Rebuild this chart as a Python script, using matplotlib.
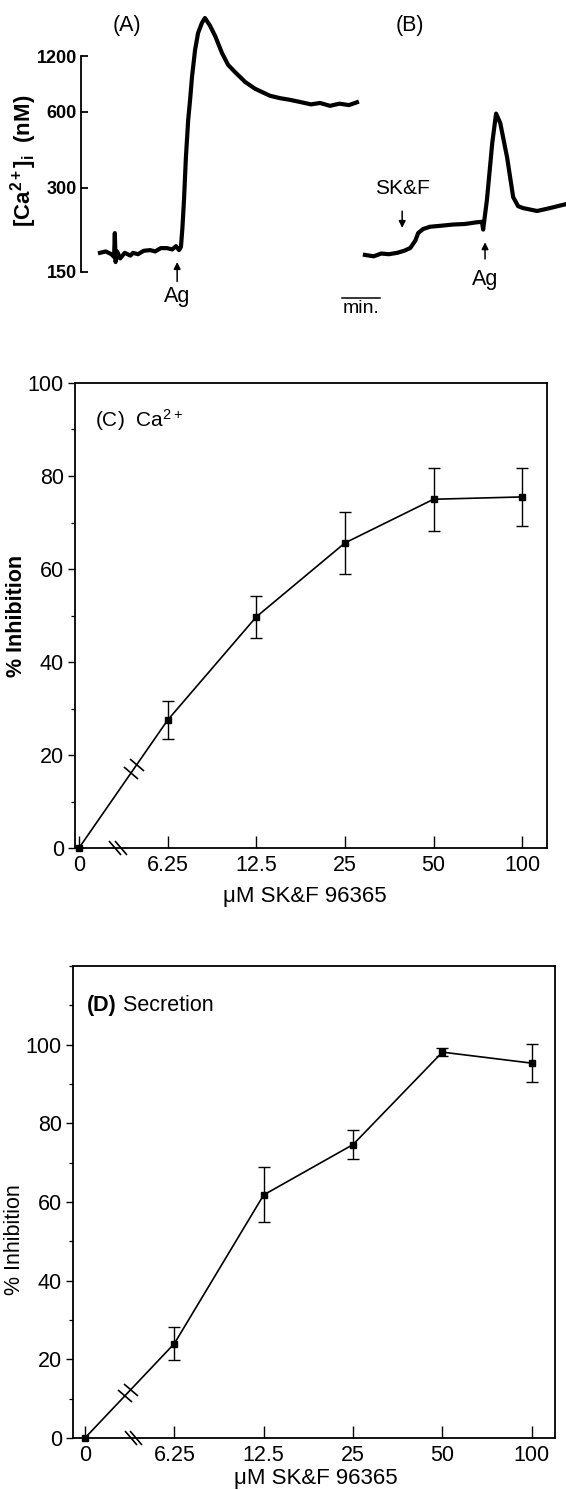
import numpy as np
import matplotlib
matplotlib.use("Agg")
from matplotlib import pyplot as plt
from matplotlib.markers import MarkerStyle
from matplotlib.transforms import Affine2D
from matplotlib.ticker import FixedLocator, MultipleLocator, NullLocator

plt.rcParams["font.family"] = ["Liberation Sans", "DejaVu Sans"]
plt.rcParams["mathtext.fontset"] = "custom"
plt.rcParams["mathtext.rm"] = "Liberation Sans"
plt.rcParams["mathtext.bf"] = "Liberation Sans:bold"
plt.rcParams["mathtext.it"] = "Liberation Sans:italic"
plt.rcParams["mathtext.default"] = "regular"

# trace (A): antigen alone, time [min] vs [Ca2+]i [nM]
t_a = [0.0, 0.15, 0.3, 0.37, 0.39, 0.41, 0.45, 0.53, 0.65, 0.8, 0.87, 1.0, 1.15,
       1.32, 1.45, 1.6, 1.76, 1.9, 2.0, 2.08, 2.13, 2.17, 2.21, 2.26, 2.32, 2.37,
       2.42, 2.5, 2.58, 2.68, 2.76, 2.89, 3.03, 3.21, 3.37, 3.55, 3.82, 4.08,
       4.47, 4.75, 5.0, 5.3, 5.55, 5.79, 6.05, 6.3, 6.55, 6.76]
ca_a = [176, 178, 174, 170, 207, 163, 178, 168, 176, 172, 176, 174, 179,
        180, 178, 183, 183, 181, 186, 180, 185, 218, 272, 390, 553, 683,
        895, 1320, 1820, 2290, 2623, 2160, 1710, 1260, 1055, 956, 841, 775,
        715, 695, 683, 665, 650, 660, 640, 655, 645, 665]

# trace (B): SK&F 96365 then antigen
t_b = [6.97, 7.2, 7.4, 7.6, 7.82, 8.0, 8.16, 8.3, 8.37, 8.5, 8.68, 9.0, 9.29,
       9.6, 9.9, 10.05, 10.08, 10.18, 10.32, 10.42, 10.53, 10.71, 10.87, 11.0,
       11.13, 11.5, 11.84, 12.24]
ca_b = [173, 171, 175, 174, 176, 179, 183, 195, 207, 214, 218, 220, 222,
        223, 226, 227, 213, 272, 444, 590, 537, 390, 278, 258,
        254, 248, 254, 262]

# dose response (C) and (D)
doses = ["0", "6.25", "12.5", "25", "50", "100"]
ca_inh = [0, 27.5, 49.7, 65.6, 75.0, 75.5]
ca_err = [0, 4.1, 4.6, 6.6, 6.8, 6.3]
sec_inh = [0, 24.0, 61.8, 74.6, 98.1, 95.3]
sec_err = [0, 4.2, 7.0, 3.7, 1.0, 4.8]

# fura-2 style calibration of the trace axis
KD, U0, UMAX = 221.8, 197.6, 292.2


def ca_to_u(ca):
    ca = np.asarray(ca, dtype=float)
    return (ca * UMAX - KD * U0) / (KD + ca)


def u_to_ca(u):
    u = np.clip(np.asarray(u, dtype=float), -U0 + 1e-6, UMAX - 1e-3)
    return KD * (u + U0) / (UMAX - u)


W, H = 566, 1490
fig = plt.figure(figsize=(W / 100, H / 100), dpi=100)

# ---- traces (A) and (B)
ax = fig.add_axes([81 / W, 1 - 280 / H, 485 / W, 270 / H])
ax.set_yscale("function", functions=(ca_to_u, u_to_ca))
ax.plot(t_a, ca_a, color="k", lw=3.0, solid_joinstyle="round")
ax.plot(t_b, ca_b, color="k", lw=3.0, solid_joinstyle="round")
ax.set_xlim(-0.5, 12.26)
ax.set_ylim(140, 3375)
for s in ["top", "right", "bottom"]:
    ax.spines[s].set_visible(False)
ax.spines["left"].set_bounds(150, 1200)
ax.spines["left"].set_linewidth(1.3)
ax.set_xticks([])
ax.yaxis.set_major_locator(FixedLocator([150, 300, 600, 1200]))
ax.yaxis.set_minor_locator(NullLocator())
ax.set_yticklabels(["150", "300", "600", "1200"], fontweight="bold", fontsize=13)
ax.tick_params(axis="y", direction="in", length=5, width=1.3, pad=3)

arrow = dict(arrowstyle="-|>", lw=1.1, color="k", mutation_scale=10, shrinkA=0, shrinkB=0)
# Ag arrow in (A)
ax.annotate("", xy=(2.03, 163), xytext=(0, -14), textcoords="offset points",
            arrowprops=arrow)
ax.annotate("Ag", xy=(2.03, 163), xytext=(0, -25), textcoords="offset points",
            ha="center", va="center", fontsize=15.5, annotation_clip=False)
# SK&F arrow in (B)
ax.annotate("", xy=(7.95, 216), xytext=(0, 12), textcoords="offset points",
            arrowprops=arrow)
ax.annotate("SK&F", xy=(7.95, 216), xytext=(0, 28), textcoords="offset points",
            ha="center", va="center", fontsize=15)
# Ag arrow in (B)
ax.annotate("", xy=(10.13, 192), xytext=(0, -12), textcoords="offset points",
            arrowprops=arrow)
ax.annotate("Ag", xy=(10.13, 192), xytext=(0, -27), textcoords="offset points",
            ha="center", va="center", fontsize=15.5, annotation_clip=False)
# 1 min scale bar
ax.plot([6.37, 7.37], [120, 120], color="k", lw=1.1, clip_on=False)
ax.text(6.87, 117, "min.", ha="center", va="top", fontsize=14, clip_on=False)

fig.text(127 / W, 1 - 25 / H, "(A)", ha="center", va="center", fontsize=15.5)
fig.text(410 / W, 1 - 25 / H, "(B)", ha="center", va="center", fontsize=15.5)
fig.text(24 / W, 1 - 161 / H, r"$\mathbf{[Ca^{2+}]_i}$  (nM)", rotation=90,
         ha="center", va="center", fontsize=16, fontweight="bold")


def break_mark(ax, x, y, angle, size=13):
    m = MarkerStyle("_", transform=Affine2D().rotate_deg(angle))
    ax.plot(x, y, ls="none", marker=m, ms=size, mew=1.2, color="k", clip_on=False)


def dose_panel(ax, inh, err, xlim, ylim, ytop, brk_axis, brk_line, bold_ylab):
    x = np.arange(len(doses))
    ax.errorbar(x[1:], inh[1:], yerr=err[1:], fmt="none", ecolor="k",
                elinewidth=1.0, capsize=4, capthick=1.0, clip_on=False)
    ax.plot(x, inh, color="k", lw=1.2, marker="s", ms=4.5, mfc="k", mec="k",
            clip_on=False, zorder=3)
    ax.set_xlim(*xlim)
    ax.set_ylim(*ylim)
    ax.set_xticks(x)
    ax.set_xticklabels(doses, fontsize=15.5)
    ax.yaxis.set_major_locator(FixedLocator(np.arange(0, ytop + 1, 20)))
    ax.yaxis.set_minor_locator(MultipleLocator(10))
    ax.tick_params(axis="y", labelsize=15.5, direction="out", length=5, width=1.0, pad=3)
    ax.tick_params(axis="y", which="minor", direction="out", length=3, width=0.9)
    ax.tick_params(axis="x", direction="in", length=9, width=1.0, pad=5)
    for s in ax.spines.values():
        s.set_linewidth(1.3)
    ax.set_xlabel("\u03bcM SK&F 96365", fontsize=16, va="top")
    ax.set_ylabel("% Inhibition", fontsize=15.5,
                  fontweight="bold" if bold_ylab else "normal")
    # axis break on the x axis
    d = 0.03
    break_mark(ax, [brk_axis - d, brk_axis + d], [0, 0], -50)
    # break on the first segment of the curve
    xs = [brk_line - d, brk_line + d]
    break_mark(ax, xs, [inh[1] * v for v in xs], -38)


axc = fig.add_axes([75 / W, 1 - 848 / H, 472 / W, 465 / H])
dose_panel(axc, ca_inh, ca_err, (-0.045, 5.28), (0, 100), 100, 0.44, 0.62, True)
axc.xaxis.set_label_coords(0.487, -0.082)
axc.yaxis.set_label_coords(-0.102, 0.5)
axc.text(0.042, 0.92, "(C)  Ca$^{2+}$", transform=axc.transAxes, fontsize=15,
         ha="left", va="center")

axd = fig.add_axes([73 / W, 1 - 1438 / H, 482 / W, 472 / H])
dose_panel(axd, sec_inh, sec_err, (-0.134, 5.26), (0, 120), 100, 0.54, 0.48, False)
axd.xaxis.set_label_coords(0.504, -0.064)
axd.yaxis.set_label_coords(-0.1, 0.42)
tl = axd.text(0.029, 0.917, "(D)", transform=axd.transAxes, fontsize=15.5,
              fontweight="bold", ha="left", va="center")
axd.annotate(" Secretion", xy=(1, 0.5), xycoords=tl, ha="left", va="center",
             fontsize=15.5)

fig.savefig("out.png", dpi=100)
